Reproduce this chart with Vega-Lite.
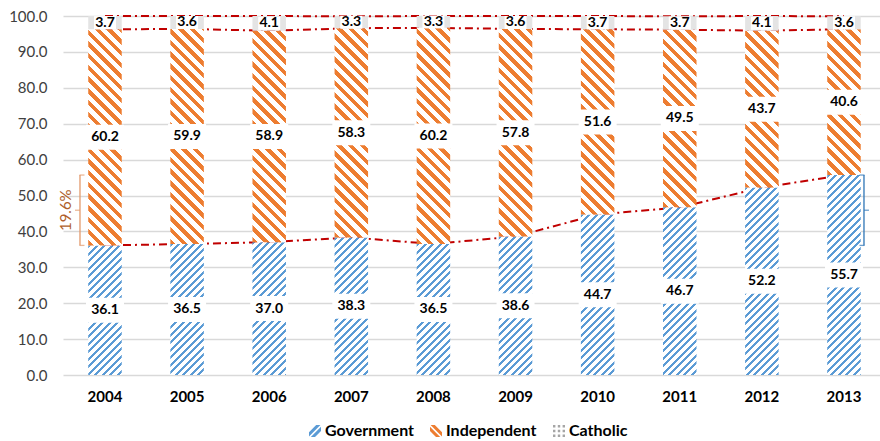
{
  "$schema": "https://vega.github.io/schema/vega-lite/v6.json",
  "width": 817,
  "height": 359,
  "autosize": {"type": "none"},
  "padding": {"left": 63, "top": 16, "right": 0, "bottom": 66},
  "background": "white",
  "config": {
    "font": "Lato",
    "view": {"stroke": null},
    "axis": {"domain": false, "ticks": false, "grid": false},
    "axisY": {"grid": true, "gridColor": "#d9d9d9", "gridWidth": 1.5, "labelFontSize": 15, "labelColor": "#404040", "labelPadding": 16, "labelFont": "Lato", "tickCount": 11, "labelOverlap": false},
    "axisX": {"labelFontSize": 15, "labelFontWeight": "bold", "labelColor": "#000000", "labelPadding": 14, "labelAngle": 0, "labelFont": "Lato"}
  },
  "params": [
    {"name": "blueStops", "value": [
      {"offset":0,"color":"#5b9bd5"},{"offset":0.012,"color":"#5b9bd5"},{"offset":0.012,"color":"#fff"},{"offset":0.03,"color":"#fff"},
      {"offset":0.03,"color":"#5b9bd5"},{"offset":0.042,"color":"#5b9bd5"},{"offset":0.042,"color":"#fff"},{"offset":0.06,"color":"#fff"},
      {"offset":0.06,"color":"#5b9bd5"},{"offset":0.072,"color":"#5b9bd5"},{"offset":0.072,"color":"#fff"},{"offset":0.09,"color":"#fff"},
      {"offset":0.09,"color":"#5b9bd5"},{"offset":0.102,"color":"#5b9bd5"},{"offset":0.102,"color":"#fff"},{"offset":0.12,"color":"#fff"},
      {"offset":0.12,"color":"#5b9bd5"},{"offset":0.132,"color":"#5b9bd5"},{"offset":0.132,"color":"#fff"},{"offset":0.15,"color":"#fff"},
      {"offset":0.15,"color":"#5b9bd5"},{"offset":0.162,"color":"#5b9bd5"},{"offset":0.162,"color":"#fff"},{"offset":0.18,"color":"#fff"},
      {"offset":0.18,"color":"#5b9bd5"},{"offset":0.192,"color":"#5b9bd5"},{"offset":0.192,"color":"#fff"},{"offset":0.21,"color":"#fff"},
      {"offset":0.21,"color":"#5b9bd5"},{"offset":0.222,"color":"#5b9bd5"},{"offset":0.222,"color":"#fff"},{"offset":0.24,"color":"#fff"},
      {"offset":0.24,"color":"#5b9bd5"},{"offset":0.252,"color":"#5b9bd5"},{"offset":0.252,"color":"#fff"},{"offset":0.27,"color":"#fff"},
      {"offset":0.27,"color":"#5b9bd5"},{"offset":0.282,"color":"#5b9bd5"},{"offset":0.282,"color":"#fff"},{"offset":0.3,"color":"#fff"},
      {"offset":0.3,"color":"#5b9bd5"},{"offset":0.312,"color":"#5b9bd5"},{"offset":0.312,"color":"#fff"},{"offset":0.33,"color":"#fff"},
      {"offset":0.33,"color":"#5b9bd5"},{"offset":0.342,"color":"#5b9bd5"},{"offset":0.342,"color":"#fff"},{"offset":0.36,"color":"#fff"},
      {"offset":0.36,"color":"#5b9bd5"},{"offset":0.372,"color":"#5b9bd5"},{"offset":0.372,"color":"#fff"},{"offset":0.39,"color":"#fff"},
      {"offset":0.39,"color":"#5b9bd5"},{"offset":0.402,"color":"#5b9bd5"},{"offset":0.402,"color":"#fff"},{"offset":0.42,"color":"#fff"},
      {"offset":0.42,"color":"#5b9bd5"},{"offset":0.432,"color":"#5b9bd5"},{"offset":0.432,"color":"#fff"},{"offset":0.45,"color":"#fff"},
      {"offset":0.45,"color":"#5b9bd5"},{"offset":0.462,"color":"#5b9bd5"},{"offset":0.462,"color":"#fff"},{"offset":0.48,"color":"#fff"},
      {"offset":0.48,"color":"#5b9bd5"},{"offset":0.492,"color":"#5b9bd5"},{"offset":0.492,"color":"#fff"},{"offset":0.51,"color":"#fff"},
      {"offset":0.51,"color":"#5b9bd5"},{"offset":0.522,"color":"#5b9bd5"},{"offset":0.522,"color":"#fff"},{"offset":0.54,"color":"#fff"},
      {"offset":0.54,"color":"#5b9bd5"},{"offset":0.552,"color":"#5b9bd5"},{"offset":0.552,"color":"#fff"},{"offset":0.57,"color":"#fff"},
      {"offset":0.57,"color":"#5b9bd5"},{"offset":0.582,"color":"#5b9bd5"},{"offset":0.582,"color":"#fff"},{"offset":0.6,"color":"#fff"},
      {"offset":0.6,"color":"#5b9bd5"},{"offset":0.612,"color":"#5b9bd5"},{"offset":0.612,"color":"#fff"},{"offset":0.63,"color":"#fff"},
      {"offset":0.63,"color":"#5b9bd5"},{"offset":0.642,"color":"#5b9bd5"},{"offset":0.642,"color":"#fff"},{"offset":0.66,"color":"#fff"},
      {"offset":0.66,"color":"#5b9bd5"},{"offset":0.672,"color":"#5b9bd5"},{"offset":0.672,"color":"#fff"},{"offset":0.69,"color":"#fff"},
      {"offset":0.69,"color":"#5b9bd5"},{"offset":0.702,"color":"#5b9bd5"},{"offset":0.702,"color":"#fff"},{"offset":0.72,"color":"#fff"},
      {"offset":0.72,"color":"#5b9bd5"},{"offset":0.732,"color":"#5b9bd5"},{"offset":0.732,"color":"#fff"},{"offset":0.75,"color":"#fff"},
      {"offset":0.75,"color":"#5b9bd5"},{"offset":0.762,"color":"#5b9bd5"},{"offset":0.762,"color":"#fff"},{"offset":0.78,"color":"#fff"},
      {"offset":0.78,"color":"#5b9bd5"},{"offset":0.792,"color":"#5b9bd5"},{"offset":0.792,"color":"#fff"},{"offset":0.81,"color":"#fff"},
      {"offset":0.81,"color":"#5b9bd5"},{"offset":0.822,"color":"#5b9bd5"},{"offset":0.822,"color":"#fff"},{"offset":0.84,"color":"#fff"},
      {"offset":0.84,"color":"#5b9bd5"},{"offset":0.852,"color":"#5b9bd5"},{"offset":0.852,"color":"#fff"},{"offset":0.87,"color":"#fff"},
      {"offset":0.87,"color":"#5b9bd5"},{"offset":0.882,"color":"#5b9bd5"},{"offset":0.882,"color":"#fff"},{"offset":0.9,"color":"#fff"},
      {"offset":0.9,"color":"#5b9bd5"},{"offset":0.912,"color":"#5b9bd5"},{"offset":0.912,"color":"#fff"},{"offset":0.93,"color":"#fff"},
      {"offset":0.93,"color":"#5b9bd5"},{"offset":0.942,"color":"#5b9bd5"},{"offset":0.942,"color":"#fff"},{"offset":1,"color":"#fff"}
    ]},
    {"name": "orangeStops", "value": [
      {"offset":0,"color":"#ed7d31"},{"offset":0.021,"color":"#ed7d31"},{"offset":0.021,"color":"#fff"},{"offset":0.045,"color":"#fff"},
      {"offset":0.045,"color":"#ed7d31"},{"offset":0.066,"color":"#ed7d31"},{"offset":0.066,"color":"#fff"},{"offset":0.09,"color":"#fff"},
      {"offset":0.09,"color":"#ed7d31"},{"offset":0.111,"color":"#ed7d31"},{"offset":0.111,"color":"#fff"},{"offset":0.135,"color":"#fff"},
      {"offset":0.135,"color":"#ed7d31"},{"offset":0.156,"color":"#ed7d31"},{"offset":0.156,"color":"#fff"},{"offset":0.18,"color":"#fff"},
      {"offset":0.18,"color":"#ed7d31"},{"offset":0.201,"color":"#ed7d31"},{"offset":0.201,"color":"#fff"},{"offset":0.225,"color":"#fff"},
      {"offset":0.225,"color":"#ed7d31"},{"offset":0.246,"color":"#ed7d31"},{"offset":0.246,"color":"#fff"},{"offset":0.27,"color":"#fff"},
      {"offset":0.27,"color":"#ed7d31"},{"offset":0.291,"color":"#ed7d31"},{"offset":0.291,"color":"#fff"},{"offset":0.315,"color":"#fff"},
      {"offset":0.315,"color":"#ed7d31"},{"offset":0.336,"color":"#ed7d31"},{"offset":0.336,"color":"#fff"},{"offset":0.36,"color":"#fff"},
      {"offset":0.36,"color":"#ed7d31"},{"offset":0.381,"color":"#ed7d31"},{"offset":0.381,"color":"#fff"},{"offset":0.405,"color":"#fff"},
      {"offset":0.405,"color":"#ed7d31"},{"offset":0.426,"color":"#ed7d31"},{"offset":0.426,"color":"#fff"},{"offset":0.45,"color":"#fff"},
      {"offset":0.45,"color":"#ed7d31"},{"offset":0.471,"color":"#ed7d31"},{"offset":0.471,"color":"#fff"},{"offset":0.495,"color":"#fff"},
      {"offset":0.495,"color":"#ed7d31"},{"offset":0.516,"color":"#ed7d31"},{"offset":0.516,"color":"#fff"},{"offset":0.54,"color":"#fff"},
      {"offset":0.54,"color":"#ed7d31"},{"offset":0.561,"color":"#ed7d31"},{"offset":0.561,"color":"#fff"},{"offset":0.585,"color":"#fff"},
      {"offset":0.585,"color":"#ed7d31"},{"offset":0.606,"color":"#ed7d31"},{"offset":0.606,"color":"#fff"},{"offset":0.63,"color":"#fff"},
      {"offset":0.63,"color":"#ed7d31"},{"offset":0.651,"color":"#ed7d31"},{"offset":0.651,"color":"#fff"},{"offset":0.675,"color":"#fff"},
      {"offset":0.675,"color":"#ed7d31"},{"offset":0.696,"color":"#ed7d31"},{"offset":0.696,"color":"#fff"},{"offset":0.72,"color":"#fff"},
      {"offset":0.72,"color":"#ed7d31"},{"offset":0.741,"color":"#ed7d31"},{"offset":0.741,"color":"#fff"},{"offset":0.765,"color":"#fff"},
      {"offset":0.765,"color":"#ed7d31"},{"offset":0.786,"color":"#ed7d31"},{"offset":0.786,"color":"#fff"},{"offset":0.81,"color":"#fff"},
      {"offset":0.81,"color":"#ed7d31"},{"offset":0.831,"color":"#ed7d31"},{"offset":0.831,"color":"#fff"},{"offset":0.855,"color":"#fff"},
      {"offset":0.855,"color":"#ed7d31"},{"offset":0.876,"color":"#ed7d31"},{"offset":0.876,"color":"#fff"},{"offset":0.9,"color":"#fff"},
      {"offset":0.9,"color":"#ed7d31"},{"offset":0.921,"color":"#ed7d31"},{"offset":0.921,"color":"#fff"},{"offset":0.945,"color":"#fff"},
      {"offset":0.945,"color":"#ed7d31"},{"offset":0.966,"color":"#ed7d31"},{"offset":0.966,"color":"#fff"},{"offset":1,"color":"#fff"}
    ]}
  ],
  "data": {"values": [
    {"year": "2004", "series": "Government", "value": 36.1},
    {"year": "2004", "series": "Independent", "value": 60.2},
    {"year": "2004", "series": "Catholic", "value": 3.7},
    {"year": "2005", "series": "Government", "value": 36.5},
    {"year": "2005", "series": "Independent", "value": 59.9},
    {"year": "2005", "series": "Catholic", "value": 3.6},
    {"year": "2006", "series": "Government", "value": 37.0},
    {"year": "2006", "series": "Independent", "value": 58.9},
    {"year": "2006", "series": "Catholic", "value": 4.1},
    {"year": "2007", "series": "Government", "value": 38.3},
    {"year": "2007", "series": "Independent", "value": 58.3},
    {"year": "2007", "series": "Catholic", "value": 3.3},
    {"year": "2008", "series": "Government", "value": 36.5},
    {"year": "2008", "series": "Independent", "value": 60.2},
    {"year": "2008", "series": "Catholic", "value": 3.3},
    {"year": "2009", "series": "Government", "value": 38.6},
    {"year": "2009", "series": "Independent", "value": 57.8},
    {"year": "2009", "series": "Catholic", "value": 3.6},
    {"year": "2010", "series": "Government", "value": 44.7},
    {"year": "2010", "series": "Independent", "value": 51.6},
    {"year": "2010", "series": "Catholic", "value": 3.7},
    {"year": "2011", "series": "Government", "value": 46.7},
    {"year": "2011", "series": "Independent", "value": 49.5},
    {"year": "2011", "series": "Catholic", "value": 3.7},
    {"year": "2012", "series": "Government", "value": 52.2},
    {"year": "2012", "series": "Independent", "value": 43.7},
    {"year": "2012", "series": "Catholic", "value": 4.1},
    {"year": "2013", "series": "Government", "value": 55.7},
    {"year": "2013", "series": "Independent", "value": 40.6},
    {"year": "2013", "series": "Catholic", "value": 3.6}
  ]},
  "transform": [
    {"calculate": "indexof(['Government','Independent','Catholic'], datum.series)", "as": "rank"},
    {"stack": "value", "groupby": ["year"], "sort": [{"field": "rank", "order": "ascending"}], "as": ["v0", "v1"]},
    {"calculate": "(datum.v0 + datum.v1) / 2", "as": "mid"}
  ],
  "layer": [
    {
      "mark": {"type": "line", "color": "#c00000", "strokeWidth": 2, "strokeDash": [8, 4, 2, 4]},
      "encoding": {
        "x": {"field": "year", "type": "ordinal", "title": null, "scale": {"paddingInner": 0.592, "paddingOuter": 0.271, "align": 0.567}},
        "y": {"field": "v1", "type": "quantitative", "title": null, "scale": {"domain": [0, 100], "nice": false}, "axis": {"values": [0, 10, 20, 30, 40, 50, 60, 70, 80, 90, 100], "format": ".1f", "tickCount": 11, "labelOverlap": false}},
        "detail": {"field": "series", "type": "nominal"}
      }
    },
    {
      "mark": {"type": "bar", "fill": {"expr": "datum.series === 'Government' ? {gradient: 'linear', x1: 0, y1: 0, x2: 250 * bandwidth('x') / (bandwidth('x') * bandwidth('x') + pow(scale('y', datum.v0) - scale('y', datum.v1), 2)), y2: 250 * abs(scale('y', datum.v0) - scale('y', datum.v1)) / (bandwidth('x') * bandwidth('x') + pow(scale('y', datum.v0) - scale('y', datum.v1), 2)), stops: blueStops} : datum.series === 'Independent' ? {gradient: 'linear', x1: 0, y1: 1, x2: 260 * bandwidth('x') / (bandwidth('x') * bandwidth('x') + pow(scale('y', datum.v0) - scale('y', datum.v1), 2)), y2: 1 - 260 * abs(scale('y', datum.v0) - scale('y', datum.v1)) / (bandwidth('x') * bandwidth('x') + pow(scale('y', datum.v0) - scale('y', datum.v1), 2)), stops: orangeStops} : '#e4e4e4'"}},
      "encoding": {
        "x": {"field": "year", "type": "ordinal", "title": null},
        "y": {"field": "v0", "type": "quantitative", "title": null, "axis": {"values": [0, 10, 20, 30, 40, 50, 60, 70, 80, 90, 100], "format": ".1f", "tickCount": 11, "labelOverlap": false}},
        "y2": {"field": "v1"}
      }
    },
    {
      "mark": {"type": "point", "filled": true, "opacity": 0},
      "encoding": {
        "x": {"field": "year", "type": "ordinal", "title": null},
        "y": {"field": "v1", "type": "quantitative", "title": null},
        "color": {"field": "series", "type": "nominal", "scale": {"domain": ["Government", "Independent", "Catholic"], "range": ["#5b9bd5", "#ed7d31", "#a6a6a6"]},
          "legend": {"title": null, "orient": "none", "legendX": 244, "legendY": 407, "direction": "horizontal", "labelFontSize": 16, "labelFontWeight": "bold", "labelColor": "#000000", "labelFont": "Lato", "symbolSize": 144, "symbolOpacity": 1, "symbolStrokeWidth": 0, "columnPadding": 14, "labelOffset": 2, "padding": 0}},
        "shape": {"field": "series", "type": "nominal", "scale": {"domain": ["Government", "Independent", "Catholic"], "range": [
            "M-1,0.2L0.2,-1L0.9,-1L-1,0.9Z M-0.7,1L1,-0.7L1,0L0,1Z",
            "M1,0.2L-0.2,-1L-0.9,-1L1,0.9Z M0.7,1L-1,-0.7L-1,0L0,1Z",
            "M-1,-1h0.4v0.4h-0.4Z M-0.2,-1h0.4v0.4h-0.4Z M0.6,-1h0.4v0.4h-0.4Z M-1,-0.2h0.4v0.4h-0.4Z M-0.2,-0.2h0.4v0.4h-0.4Z M0.6,-0.2h0.4v0.4h-0.4Z M-1,0.6h0.4v0.4h-0.4Z M-0.2,0.6h0.4v0.4h-0.4Z M0.6,0.6h0.4v0.4h-0.4Z"]},
          "legend": {"title": null, "orient": "none", "legendX": 244, "legendY": 407, "direction": "horizontal", "labelFontSize": 16, "labelFontWeight": "bold", "labelColor": "#000000", "labelFont": "Lato", "symbolSize": 144, "symbolOpacity": 1, "symbolStrokeWidth": 0, "columnPadding": 14, "labelOffset": 2, "padding": 0}}
      }
    },
    {
      "transform": [{"filter": "datum.series !== 'Catholic'"}],
      "mark": {"type": "point", "shape": "M-1,-0.658H1V0.658H-1Z", "size": 1444, "filled": true, "fill": "#ffffff", "opacity": 1, "strokeWidth": 0},
      "encoding": {
        "x": {"field": "year", "type": "ordinal", "title": null},
        "y": {"field": "mid", "type": "quantitative", "title": null}
      }
    },
    {
      "transform": [{"filter": "datum.series === 'Catholic'"}],
      "mark": {"type": "point", "shape": "M-1,-0.59H1V0.59H-1Z", "size": 484, "filled": true, "fill": "#ffffff", "opacity": 1, "strokeWidth": 0},
      "encoding": {
        "x": {"field": "year", "type": "ordinal", "title": null},
        "y": {"field": "mid", "type": "quantitative", "title": null}
      }
    },
    {
      "mark": {"type": "text", "font": "Lato", "fontWeight": "bold", "fontSize": 14, "color": "#000000", "align": "center", "baseline": "middle"},
      "encoding": {
        "x": {"field": "year", "type": "ordinal", "title": null},
        "y": {"field": "mid", "type": "quantitative", "title": null},
        "text": {"field": "value", "type": "quantitative", "format": ".1f"}
      }
    },
    {
      "data": {"values": [{"year": "2004", "lo": 36.1, "hi": 55.7, "label": "19.6%"}]},
      "transform": [{"calculate": "(datum.lo + datum.hi) / 2", "as": "m"}],
      "layer": [
        {"mark": {"type": "rule", "xOffset": -25, "color": "#e39a6c", "strokeWidth": 1.3},
         "encoding": {"x": {"field": "year", "type": "ordinal", "title": null}, "y": {"field": "lo", "type": "quantitative", "title": null}, "y2": {"field": "hi"}}},
        {"mark": {"type": "tick", "orient": "horizontal", "xOffset": -23, "size": 5, "thickness": 1.3, "color": "#e39a6c"},
         "encoding": {"x": {"field": "year", "type": "ordinal", "title": null}, "y": {"field": "lo", "type": "quantitative", "title": null}}},
        {"mark": {"type": "tick", "orient": "horizontal", "xOffset": -23, "size": 5, "thickness": 1.3, "color": "#e39a6c"},
         "encoding": {"x": {"field": "year", "type": "ordinal", "title": null}, "y": {"field": "hi", "type": "quantitative", "title": null}}},
        {"mark": {"type": "tick", "orient": "horizontal", "xOffset": -27.5, "size": 5, "thickness": 1.3, "color": "#e39a6c"},
         "encoding": {"x": {"field": "year", "type": "ordinal", "title": null}, "y": {"field": "m", "type": "quantitative", "title": null}}},
        {"mark": {"type": "text", "angle": 270, "xOffset": -39, "font": "Lato", "fontSize": 15, "color": "#b05f2a", "align": "center", "baseline": "middle"},
         "encoding": {"x": {"field": "year", "type": "ordinal", "title": null}, "y": {"field": "m", "type": "quantitative", "title": null}, "text": {"field": "label"}}}
      ]
    },
    {
      "data": {"values": [{"year": "2013", "lo": 36.1, "hi": 55.7}]},
      "transform": [{"calculate": "(datum.lo + datum.hi) / 2", "as": "m"}],
      "layer": [
        {"mark": {"type": "rule", "xOffset": 20, "color": "#2e75b6", "strokeWidth": 1.3},
         "encoding": {"x": {"field": "year", "type": "ordinal", "title": null}, "y": {"field": "lo", "type": "quantitative", "title": null}, "y2": {"field": "hi"}}},
        {"mark": {"type": "tick", "orient": "horizontal", "xOffset": 18, "size": 5, "thickness": 1.3, "color": "#2e75b6"},
         "encoding": {"x": {"field": "year", "type": "ordinal", "title": null}, "y": {"field": "lo", "type": "quantitative", "title": null}}},
        {"mark": {"type": "tick", "orient": "horizontal", "xOffset": 18, "size": 5, "thickness": 1.3, "color": "#2e75b6"},
         "encoding": {"x": {"field": "year", "type": "ordinal", "title": null}, "y": {"field": "hi", "type": "quantitative", "title": null}}},
        {"mark": {"type": "tick", "orient": "horizontal", "xOffset": 22.5, "size": 5, "thickness": 1.3, "color": "#2e75b6"},
         "encoding": {"x": {"field": "year", "type": "ordinal", "title": null}, "y": {"field": "m", "type": "quantitative", "title": null}}}
      ]
    }
  ]
}
